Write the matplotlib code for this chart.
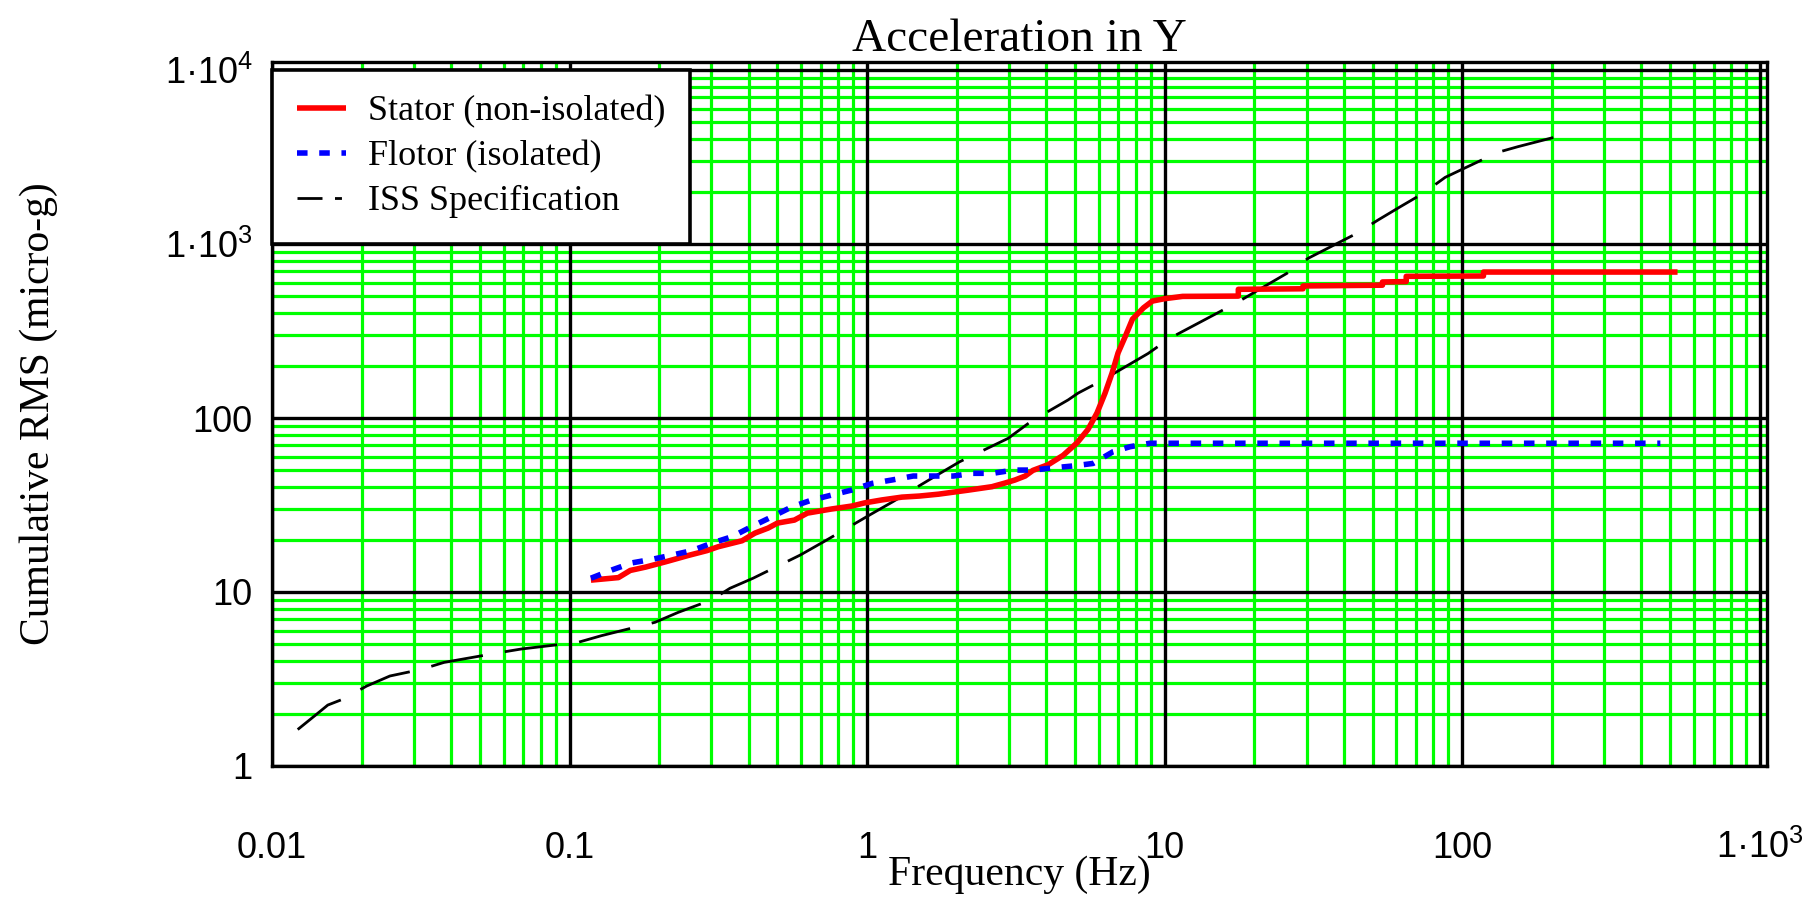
"""
Cumulative RMS acceleration in Y: stator vs flotor vs ISS specification.
"""
import numpy as np
import matplotlib
matplotlib.use("Agg")
import matplotlib.pyplot as plt
from matplotlib import font_manager
from matplotlib.ticker import LogLocator, FixedLocator, NullFormatter

# Stator (non-isolated)
stator_hz = [0.118, 0.146, 0.16, 0.18, 0.21, 0.25, 0.29, 0.316, 0.38, 0.42,
             0.465, 0.50, 0.57, 0.63, 0.76, 0.89, 0.98, 1.12, 1.31, 1.5,
             1.74, 2.19, 2.63, 2.91, 3.14, 3.40, 3.61, 4.07, 4.56, 5.08,
             5.53, 5.93, 6.31, 6.66, 6.98, 7.37, 7.8, 8.5, 9.1, 10.0,
             11.5, 17.7, 17.7, 29.2, 29.2, 54.0, 54.0, 64.9, 64.9, 118.0,
             118.0, 530.0]
stator_ug = [11.7, 12.1, 13.3, 13.9, 14.9, 16.2, 17.3, 18.2, 19.7, 21.8,
             23.3, 24.9, 25.9, 28.4, 30.0, 31.2, 32.5, 33.8, 35.1, 35.6,
             36.5, 38.5, 40.3, 42.3, 44.0, 46.4, 50.0, 54.0, 61.0, 72.0,
             86.0, 107.0, 139.0, 181.0, 237.0, 293.0, 370.0, 430.0, 470.0, 485.0,
             500.0, 502.0, 549.0, 553.0, 574.0, 580.0, 605.0, 608.0, 652.0, 655.0,
             690.0, 690.0]

# Flotor (isolated)
flotor_hz = [0.118, 0.139, 0.162, 0.189, 0.221, 0.258, 0.301, 0.352, 0.410,
             0.480, 0.560, 0.653, 0.762, 0.891, 1.04, 1.21, 1.43, 1.95, 2.27,
             2.65, 3.10, 3.61, 4.22, 4.92, 5.75, 6.71, 7.66, 8.93, 464.0]
flotor_ug = [12.0, 13.4, 14.7, 15.4, 16.3, 17.3, 19.1, 20.8, 23.8,
             27.1, 30.9, 33.8, 36.1, 38.6, 42.1, 44.0, 46.4, 46.4, 48.1,
             48.1, 50.2, 50.2, 51.7, 53.0, 54.8, 64.0, 68.4, 71.6, 71.6]

# ISS specification
iss_hz = [0.0122, 0.0140, 0.0154, 0.0173, 0.0208, 0.0249, 0.0317, 0.0379,
          0.0589, 0.0687, 0.107, 0.128, 0.194, 0.232, 0.30, 0.346, 0.414,
          0.596, 0.717, 1.02, 1.22, 1.72, 2.05, 2.98, 3.57, 4.74, 5.12,
          6.07, 8.81, 10.4, 15.0, 17.7, 25.8, 30.4, 44.3, 52.2, 62.0, 74.0,
          87.7, 132.0, 154.0, 208.0]
iss_ug = [1.62, 1.96, 2.24, 2.42, 2.88, 3.29, 3.59, 3.94,
          4.50, 4.70, 5.14, 5.61, 6.70, 7.64, 9.0, 10.5, 12.0,
          16.3, 19.5, 27.7, 33.0, 47.0, 56.1, 76.4, 96.0, 127.0, 139.0,
          162.0, 235.0, 287.0, 400.0, 466.0, 679.0, 828.0, 1152.0, 1374.0, 1638.0, 1955.0,
          2415.0, 3365.0, 3625.0, 4140.0]

x_ticks = [0.01, 0.1, 1, 10, 100, 1000]
x_labels = ["0.01", "0.1", "1", "10", "100", "$\\mathregular{1\u00b710^{3}}$"]
y_ticks = [1, 10, 100, 1000, 10000]
y_labels = ["1", "10", "100", "$\\mathregular{1\u00b710^{3}}$", "$\\mathregular{1\u00b710^{4}}$"]

# fonts
names = {f.name for f in font_manager.fontManager.ttflist}
if "Liberation Sans Narrow" in names:
    tick_font, tick_size = "Liberation Sans Narrow", 28
else:
    tick_font, tick_size = "Liberation Sans", 26
serif = "Liberation Serif"
plt.rcParams["mathtext.fontset"] = "custom"
plt.rcParams["mathtext.rm"] = tick_font

fig = plt.figure(figsize=(18.11, 9.05), dpi=100)
rect = [0.1502, 0.1536, 0.8255, 0.7779]
xlim = (0.01, 1059)
ylim = (1, 11120)

# background axes: green minor grid only
ax_bg = fig.add_axes(rect)
ax_bg.set_xscale("log")
ax_bg.set_yscale("log")
ax_bg.set_xlim(*xlim)
ax_bg.set_ylim(*ylim)
for axis in (ax_bg.xaxis, ax_bg.yaxis):
    axis.set_major_locator(FixedLocator([]))
    axis.set_minor_locator(LogLocator(base=10, subs=np.arange(2, 10), numticks=100))
    axis.set_minor_formatter(NullFormatter())
ax_bg.grid(which="minor", color="#00ff00", linewidth=2.3)
ax_bg.tick_params(which="both", length=0, labelbottom=False, labelleft=False)
for s in ax_bg.spines.values():
    s.set_visible(False)

# main axes
ax = fig.add_axes(rect)
ax.patch.set_alpha(0)
ax.set_xscale("log")
ax.set_yscale("log")
ax.set_xlim(*xlim)
ax.set_ylim(*ylim)
ax.xaxis.set_minor_locator(FixedLocator([]))
ax.yaxis.set_minor_locator(FixedLocator([]))
ax.set_xticks(x_ticks)
ax.set_xticklabels(x_labels)
ax.set_yticks(y_ticks)
ax.set_yticklabels(y_labels)
ax.grid(which="major", color="black", linewidth=2.4)
ax.tick_params(which="both", length=0)
ax.tick_params(axis="x", pad=66)
ax.tick_params(axis="y", pad=14)
for lbl in ax.get_xticklabels():
    lbl.set_fontfamily(tick_font)
    lbl.set_fontsize(tick_size)
    lbl.set_va("baseline")
for lbl in ax.get_yticklabels():
    lbl.set_fontfamily(tick_font)
    lbl.set_fontsize(tick_size)
    lbl.set_va("center_baseline")
for s in ax.spines.values():
    s.set_linewidth(2.4)
    s.set_color("black")

ax.plot(stator_hz, stator_ug, color="#ff0000", linewidth=4.0,
        solid_capstyle="butt", label="Stator (non-isolated)", zorder=4)
ax.plot(flotor_hz, flotor_ug, color="#0000ff", linewidth=4.0,
        dashes=(1.9, 2.1), dash_capstyle="butt", label="Flotor (isolated)", zorder=5)
ax.plot(iss_hz, iss_ug, color="black", linewidth=2.0,
        dashes=(19, 8), dash_capstyle="butt", label="ISS Specification", zorder=3)

ax.set_title("Acceleration in Y", family=serif, fontsize=34, pad=8)
ax.set_xlabel("Frequency (Hz)", family=serif, fontsize=30)
ax.xaxis.set_label_coords(0.5, -0.127)
ax.xaxis.label.set_va("top")
ax.set_ylabel("Cumulative RMS (micro-g)", family=serif, fontsize=30)
ax.yaxis.set_label_coords(-0.143, 0.5)

leg = ax.legend(loc="upper left", bbox_to_anchor=(0.0, 0.9886), borderaxespad=0,
                prop={"family": serif, "size": 26}, fancybox=False, framealpha=1,
                edgecolor="black", borderpad=0.7, labelspacing=0.32,
                handlelength=1.35, handletextpad=0.6)
leg.get_frame().set_linewidth(2.6)
leg.get_lines()[2].set_dashes((9, 4.5, 2.5, 4.5))
leg.set_zorder(10)

fig.savefig("out.png", dpi=100)
